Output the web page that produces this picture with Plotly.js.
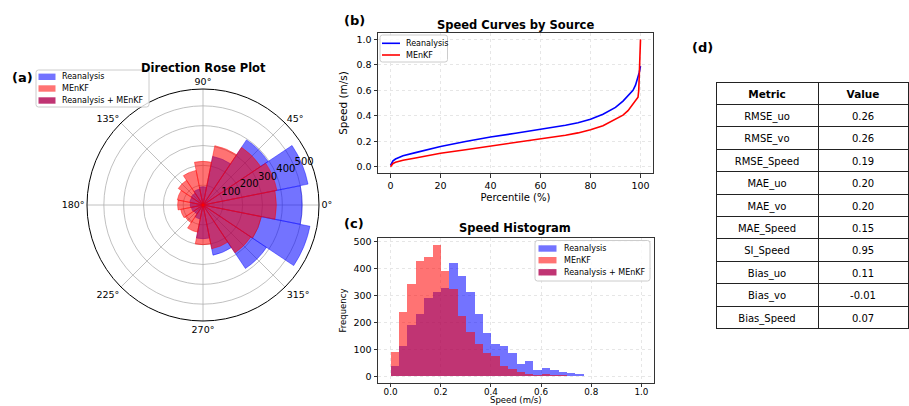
<!DOCTYPE html>
<html>
<head>
<meta charset="utf-8">
<script src="https://cdn.plot.ly/plotly-3.0.1.min.js"></script>
<style>html,body{margin:0;padding:0;background:#fff;}#chart{width:909px;height:406px;}</style>
</head>
<body>
<div id="chart"></div>
<script>
// ---------- data ----------
const directions = [0, 22.5, 45, 67.5, 90, 112.5, 135, 157.5, 180, 202.5, 225, 247.5, 270, 292.5, 315, 337.5];
const roseReanalysis = [500, 540, 395, 250, 92, 82, 72, 68, 64, 60, 55, 72, 170, 258, 385, 550];
const roseMEnKF      = [370, 380, 350, 305, 220, 178, 150, 132, 128, 115, 108, 140, 200, 225, 290, 300];
const angleTicks = [0, 45, 90, 135, 180, 225, 270, 315];
const angleTickText = ['0°', '45°', '90°', '135°', '180°', '225°', '270°', '315°'];
const radialTicks = [100, 200, 300, 400, 500];

const pctReanalysis   = [0, 0.5, 1, 2, 5, 10, 15, 20, 30, 40, 50, 60, 70, 75, 80, 85, 90, 93, 95, 97, 98, 99, 99.5, 100];
const speedReanalysis = [0.01, 0.03, 0.045, 0.06, 0.085, 0.11, 0.135, 0.158, 0.198, 0.233, 0.262, 0.292, 0.325, 0.345, 0.372, 0.412, 0.465, 0.515, 0.56, 0.6, 0.64, 0.70, 0.74, 0.79];
const pctMEnKF   = [0, 0.5, 1, 2, 5, 10, 15, 20, 30, 40, 50, 60, 70, 75, 80, 85, 90, 93, 95, 97, 98, 99, 99.3, 99.7, 100];
const speedMEnKF = [0.0, 0.015, 0.025, 0.035, 0.05, 0.068, 0.088, 0.105, 0.133, 0.162, 0.188, 0.215, 0.247, 0.265, 0.29, 0.322, 0.372, 0.405, 0.44, 0.49, 0.52, 0.545, 0.6, 0.8, 1.0];

const histBinStart = 0;
const histBinWidth = 0.0335;
const histReanalysis = [40, 113, 189, 231, 290, 311, 326, 421, 371, 311, 231, 160, 119, 111, 85, 46, 57, 22, 30, 24, 17, 12, 9, 2, 0, 0, 0, 0, 0, 0];
const histMEnKF      = [89, 238, 342, 429, 441, 488, 389, 324, 225, 164, 119, 85, 77, 40, 28, 16, 10, 7, 9, 5, 4, 2, 2, 1, 0, 3, 0, 0, 0, 0];

const tableHeader  = ['Metric', 'Value'];
const metricNames  = ['RMSE_uo', 'RMSE_vo', 'RMSE_Speed', 'MAE_uo', 'MAE_vo', 'MAE_Speed', 'SI_Speed', 'Bias_uo', 'Bias_vo', 'Bias_Speed'];
const metricValues = [0.26, 0.26, 0.19, 0.20, 0.20, 0.15, 0.95, 0.11, -0.01, 0.07];

const seriesNames = ['Reanalysis', 'MEnKF', 'Reanalysis + MEnKF'];

// ---------- styles ----------
const W = 909, H = 406;
const FONT = 'DejaVu Sans';
const BLUE = 'rgba(0,0,255,0.55)';
const RED = 'rgba(255,0,0,0.55)';
const PURPLE = 'rgb(192,52,115)';
const BLUE_SOLID = 'rgb(115,115,255)';
const RED_SOLID = 'rgb(255,115,115)';
const px = x => x / W;
const py = y => 1 - y / H;

const histCenters = histReanalysis.map((_, i) => histBinStart + (i + 0.5) * histBinWidth);
const radialLabelAngle = 22.5;

const traces = [
  {type: 'barpolar', r: roseReanalysis, theta: directions, width: 22.5, name: seriesNames[0],
   marker: {color: BLUE, line: {color: BLUE, width: 0.8}}, subplot: 'polar', showlegend: false},
  {type: 'barpolar', r: roseMEnKF, theta: directions, width: 22.5, name: seriesNames[1],
   marker: {color: RED, line: {color: RED, width: 0.8}}, subplot: 'polar', showlegend: false},
  {type: 'scatterpolar', mode: 'text', r: radialTicks, theta: radialTicks.map(() => radialLabelAngle),
   text: radialTicks.map(String), textposition: 'top right', subplot: 'polar', showlegend: false,
   textfont: {family: FONT, size: 10, color: 'black'}, cliponaxis: false, hoverinfo: 'skip'},

  {type: 'scatter', mode: 'lines', x: pctReanalysis, y: speedReanalysis, name: seriesNames[0],
   line: {color: '#0000ff', width: 1.6}, xaxis: 'x', yaxis: 'y', showlegend: false},
  {type: 'scatter', mode: 'lines', x: pctMEnKF, y: speedMEnKF, name: seriesNames[1],
   line: {color: '#ff0000', width: 1.6}, xaxis: 'x', yaxis: 'y', showlegend: false},

  {type: 'bar', x: histCenters, y: histReanalysis, width: histBinWidth, name: seriesNames[0],
   marker: {color: BLUE, line: {width: 0}}, xaxis: 'x2', yaxis: 'y2', showlegend: false},
  {type: 'bar', x: histCenters, y: histMEnKF, width: histBinWidth, name: seriesNames[1],
   marker: {color: RED, line: {width: 0}}, xaxis: 'x2', yaxis: 'y2', showlegend: false},

  {type: 'table', domain: {x: [px(716), px(908)], y: [py(340), py(82)]},
   columnwidth: [102, 90],
   header: {values: tableHeader, align: 'center', height: 22.4,
            line: {color: '#222', width: 1}, fill: {color: 'white'},
            font: {family: FONT, size: 10.5, color: 'black', weight: 'bold'}},
   cells: {values: [metricNames, metricValues.map(v => v.toFixed(2))], align: 'center', height: 22.4,
           line: {color: '#222', width: 1}, fill: {color: 'white'},
           font: {family: FONT, size: 10, color: 'black'}}}
];

const axisCommon = {
  showline: true, mirror: true, linecolor: '#333', linewidth: 1,
  ticks: 'outside', ticklen: 3.5, tickwidth: 1, tickcolor: '#333',
  showgrid: true, gridcolor: '#e6e6e6', griddash: 'dot', gridwidth: 1,
  zeroline: false, tickfont: {family: FONT, size: 9.5, color: 'black'}
};

const ann = (text, x, y, size, bold, xanchor, yanchor) => ({
  text: bold ? '<b>' + text + '</b>' : text, x: px(x), y: py(y), xref: 'paper', yref: 'paper',
  showarrow: false, xanchor: xanchor || 'center', yanchor: yanchor || 'middle',
  font: {family: FONT, size: size, color: 'black'}
});

// compact matplotlib-style legends
const shapes = [];
const annotations = [];
function roundRect(x0, y0, x1, y1, r) {
  const X0 = px(x0), X1 = px(x1), Y0 = py(y0), Y1 = py(y1), rx = r / W, ry = r / H;
  return 'M' + (X0 + rx) + ',' + Y0 + ' L' + (X1 - rx) + ',' + Y0 + ' Q' + X1 + ',' + Y0 + ' ' + X1 + ',' + (Y0 - ry) +
    ' L' + X1 + ',' + (Y1 + ry) + ' Q' + X1 + ',' + Y1 + ' ' + (X1 - rx) + ',' + Y1 +
    ' L' + (X0 + rx) + ',' + Y1 + ' Q' + X0 + ',' + Y1 + ' ' + X0 + ',' + (Y1 + ry) +
    ' L' + X0 + ',' + (Y0 - ry) + ' Q' + X0 + ',' + Y0 + ' ' + (X0 + rx) + ',' + Y0 + ' Z';
}
function addLegend(box, rows, symX0, symX1, textX, entries, kind) {
  shapes.push({type: 'path', path: roundRect(box[0], box[1], box[2], box[3], 2.5), xref: 'paper', yref: 'paper',
               fillcolor: 'rgba(255,255,255,0.8)', line: {color: '#cccccc', width: 1}, layer: 'above'});
  entries.forEach((e, i) => {
    const yc = rows[i];
    if (kind === 'patch') {
      shapes.push({type: 'rect', xref: 'paper', yref: 'paper', x0: px(symX0), x1: px(symX1),
                   y0: py(yc + 3.2), y1: py(yc - 3.2), fillcolor: e.color, line: {width: 0}, layer: 'above'});
    } else {
      shapes.push({type: 'line', xref: 'paper', yref: 'paper', x0: px(symX0), x1: px(symX1),
                   y0: py(yc), y1: py(yc), line: {color: e.color, width: 1.6}, layer: 'above'});
    }
    annotations.push(ann(e.name, textX, yc, 8, false, 'left'));
  });
}
const patchEntries = [
  {name: seriesNames[0], color: BLUE_SOLID},
  {name: seriesNames[1], color: RED_SOLID},
  {name: seriesNames[2], color: PURPLE}
];
const lineEntries = [
  {name: seriesNames[0], color: '#0000ff'},
  {name: seriesNames[1], color: '#ff0000'}
];

annotations.push(ann('Direction Rose Plot', 203, 67.5, 11.5, true));
addLegend([36, 70, 149, 107], [76.8, 88.5, 100.5], 38.5, 55.5, 60, patchEntries, 'patch');
addLegend([380, 35, 447.5, 62], [43.3, 55], 382, 400, 404, lineEntries, 'line');
addLegend([535, 240.5, 650, 281], [248.5, 260.2, 272.3], 538.5, 556.5, 561.5, patchEntries, 'patch');

annotations.push(
  ann('Speed Curves by Source', 515.5, 25, 11.5, true),
  ann('Speed Histogram', 515, 228, 11.5, true),
  ann('Speed (m/s)', 516, 406.5, 8.5, false, 'center', 'bottom'),
  ann('(a)', 22, 77, 13, true),
  ann('(b)', 354.5, 20, 13, true),
  ann('(c)', 354, 223, 13, true),
  ann('(d)', 702, 48, 13, true)
);

const layout = {
  width: W, height: H, margin: {l: 0, r: 0, t: 0, b: 0},
  paper_bgcolor: 'white', plot_bgcolor: 'white',
  font: {family: FONT, color: 'black'},
  showlegend: false,
  polar: {
    domain: {x: [px(203 - 116), px(203 + 116)], y: [py(205 + 116), py(205 - 116)]},
    barmode: 'overlay', bargap: 0, bgcolor: 'white',
    angularaxis: {rotation: 0, direction: 'counterclockwise', tickmode: 'array',
                  tickvals: angleTicks, ticktext: angleTickText, ticks: '',
                  showline: true, linecolor: 'black', linewidth: 1,
                  gridcolor: '#b0b0b0', gridwidth: 0.8,
                  tickfont: {family: FONT, size: 9.5, color: 'black'}},
    radialaxis: {range: [0, 585], tickmode: 'array', tickvals: radialTicks, angle: radialLabelAngle,
                 showticklabels: false, showline: false, ticks: '', gridcolor: '#b0b0b0', gridwidth: 0.8}
  },
  xaxis: Object.assign({}, axisCommon, {domain: [px(378), px(653)], anchor: 'y', range: [-5, 105],
         tickvals: [0, 20, 40, 60, 80, 100],
         title: {text: 'Percentile (%)', font: {family: FONT, size: 10, color: 'black'}, standoff: 4}}),
  yaxis: Object.assign({}, axisCommon, {domain: [py(173), py(33)], anchor: 'x', range: [-0.05, 1.05],
         tickvals: [0, 0.2, 0.4, 0.6, 0.8, 1.0], tickformat: '.1f',
         title: {text: 'Speed (m/s)', font: {family: FONT, size: 10.5, color: 'black'}, standoff: 6}}),
  xaxis2: Object.assign({}, axisCommon, {domain: [px(378), px(654)], anchor: 'y2', range: [-0.05, 1.05],
          tickvals: [0, 0.2, 0.4, 0.6, 0.8, 1.0], tickformat: '.1f', ticklen: 3, ticklabelstandoff: -3,
          tickfont: {family: FONT, size: 8.8, color: 'black'}}),
  yaxis2: Object.assign({}, axisCommon, {domain: [py(383), py(238)], anchor: 'x2', range: [-24.4, 512.4],
          tickvals: [0, 100, 200, 300, 400, 500],
          title: {text: 'Frequency', font: {family: FONT, size: 8.5, color: 'black'}, standoff: 5}}),
  barmode: 'overlay', bargap: 0,
  shapes: shapes,
  annotations: annotations
};

Plotly.newPlot('chart', traces, layout, {displayModeBar: false, staticPlot: true});
</script>
</body>
</html>
